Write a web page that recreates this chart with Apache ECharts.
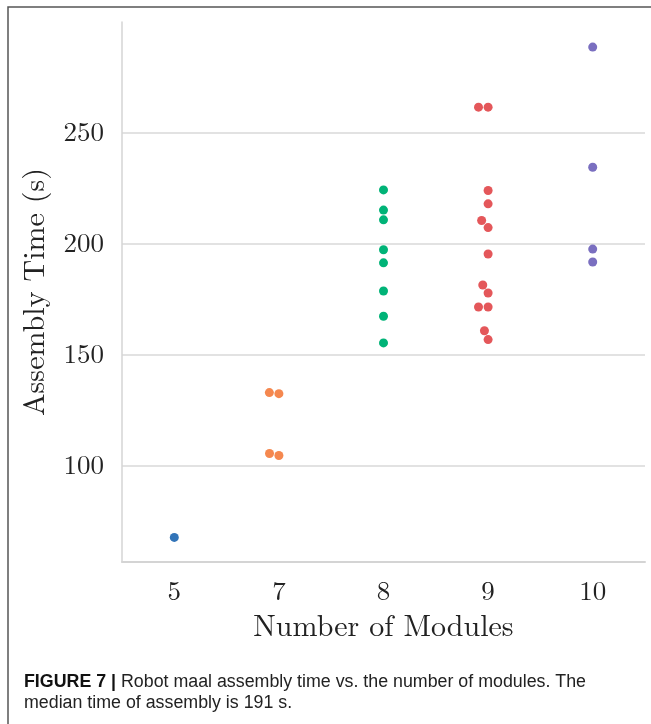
<!DOCTYPE html>
<html>
<head>
<meta charset="utf-8">
<script src="https://cdn.jsdelivr.net/npm/echarts@6/dist/echarts.min.js"></script>
<style>html,body{margin:0;padding:0;background:#fff;}#c{width:651px;height:724px;}</style>
</head>
<body>
<div id="c"></div>
<script>
// ---- data ----
var categories = ['5', '7', '8', '9', '10'];
var times5  = [67.6];
var times7  = [132.9, 132.4, 105.4, 104.5];
var times8  = [224.3, 215.2, 210.8, 197.3, 191.4, 178.7, 167.3, 155.3];
var times9  = [261.6, 261.6, 224.0, 218.0, 210.5, 207.3, 195.4, 181.4, 177.8, 171.5, 171.5, 160.8, 156.8];
var times10 = [288.7, 234.5, 197.6, 191.8];
var yTicks = [100, 150, 200, 250];
var colors = ['#3274b8', '#f5884f', '#00b377', '#e4575a', '#7a6fc0'];
var captionBold = 'FIGURE 7 |';
var caption1 = 'Robot maal assembly time vs. the number of modules. The';
var caption2 = 'median time of assembly is 191 s.';

var groups = [times5, times7, times8, times9, times10];
var serif = "'Latin Modern Roman','CMU Serif','Liberation Serif','DejaVu Serif',serif";
var sans = "'Liberation Sans','Helvetica','Arial',sans-serif";
var chart = echarts.init(document.getElementById('c'));
var DOT = 9;

// measure caption to squeeze it into the condensed width of the reference
var cv = document.createElement('canvas').getContext('2d');
cv.font = 'bold 18px ' + sans;
var wb = cv.measureText(captionBold + ' ').width;
cv.font = '18px ' + sans;
var w1 = wb + cv.measureText(caption1).width;
var sx = 562 / w1;

function buildSeries(offsets) {
  return groups.map(function (vals, gi) {
    return {
      type: 'scatter',
      xAxisIndex: 1,
      yAxisIndex: 0,
      symbolSize: DOT,
      itemStyle: { color: colors[gi], opacity: 1 },
      data: vals.map(function (v, i) {
        var off = offsets ? offsets[gi][i] : 0;
        return [gi + off, v];
      }),
      silent: true
    };
  });
}

var option = {
  animation: false,
  backgroundColor: '#fff',
  grid: { left: 122, right: 6, top: 22, bottom: 162, containLabel: false },
  xAxis: [
    {
      type: 'category',
      data: categories,
      name: 'Number of Modules',
      nameLocation: 'middle',
      nameGap: 50,
      nameTextStyle: { fontFamily: serif, fontSize: 30, color: '#222' },
      axisLine: { show: true, onZero: false, lineStyle: { color: '#d4d4d4', width: 2 } },
      axisTick: { show: false },
      axisLabel: { fontFamily: serif, fontSize: 27, color: '#222', margin: 16 },
      splitLine: { show: false }
    },
    {
      type: 'value',
      min: -0.5,
      max: 4.5,
      show: false,
      splitLine: { show: false }
    }
  ],
  yAxis: [{
    type: 'value',
    min: 56.5,
    max: 300,
    name: 'Assembly Time (s)',
    nameLocation: 'middle',
    nameGap: 72,
    nameTextStyle: { fontFamily: serif, fontSize: 30, color: '#222' },
    axisLine: { show: true, onZero: false, lineStyle: { color: '#d4d4d4', width: 1.5 } },
    axisTick: { show: false },
    axisLabel: {
      fontFamily: serif, fontSize: 27, color: '#222', margin: 18,
      showMinLabel: false, showMaxLabel: false,
      formatter: function (v) { return yTicks.indexOf(v) >= 0 ? String(v) : ''; }
    },
    splitLine: { show: true, showMinLine: false, showMaxLine: false, lineStyle: { color: '#d9d9d9', width: 1.5 } }
  }],
  graphic: [
    {
      type: 'rect', silent: true,
      shape: { x: 8, y: 7, width: 700, height: 800 },
      style: { fill: 'none', stroke: '#555', lineWidth: 1.5 },
      z: 100
    },
    {
      type: 'text', x: 24, y: 673, scaleX: sx, silent: true,
      style: {
        text: '{b|' + captionBold + '} ' + caption1,
        rich: { b: { fontWeight: 'bold', fontSize: 18, fontFamily: sans, fill: '#111' } },
        fontSize: 18, fontFamily: sans, fill: '#222'
      }
    },
    {
      type: 'text', x: 24, y: 694, scaleX: sx, silent: true,
      style: { text: caption2, fontSize: 18, fontFamily: sans, fill: '#222' }
    }
  ],
  series: buildSeries(null)
};
chart.setOption(option);

// ---- swarm layout (computed in pixel space through the chart's own scales) ----
var finder = { xAxisIndex: 1, yAxisIndex: 0 };
var p0 = chart.convertToPixel(finder, [0, 100]);
var p1 = chart.convertToPixel(finder, [1, 100]);
var pxPerCat = p1[0] - p0[0];
var D = 9.6;
var offsets = groups.map(function (vals, gi) {
  var idx = vals.map(function (v, i) { return i; });
  idx.sort(function (a, b) { return vals[a] - vals[b]; });
  var placed = [];
  var res = new Array(vals.length);
  idx.forEach(function (i) {
    var py = chart.convertToPixel(finder, [gi, vals[i]])[1];
    var cands = [0];
    placed.forEach(function (p) {
      var dy = Math.abs(p.y - py);
      if (dy < D) {
        var dx = Math.sqrt(D * D - dy * dy);
        cands.push(p.x - dx, p.x + dx);
      }
    });
    cands.sort(function (a, b) { return (Math.abs(a) - Math.abs(b)) || (a - b); });
    var chosen = 0;
    for (var k = 0; k < cands.length; k++) {
      var c = cands[k], ok = true;
      for (var m = 0; m < placed.length; m++) {
        var ddx = placed[m].x - c, ddy = placed[m].y - py;
        if (ddx * ddx + ddy * ddy < D * D - 0.01) { ok = false; break; }
      }
      if (ok) { chosen = c; break; }
    }
    placed.push({ x: chosen, y: py });
    res[i] = chosen / pxPerCat;
  });
  return res;
});
chart.setOption({ series: buildSeries(offsets) });
</script>
</body>
</html>
